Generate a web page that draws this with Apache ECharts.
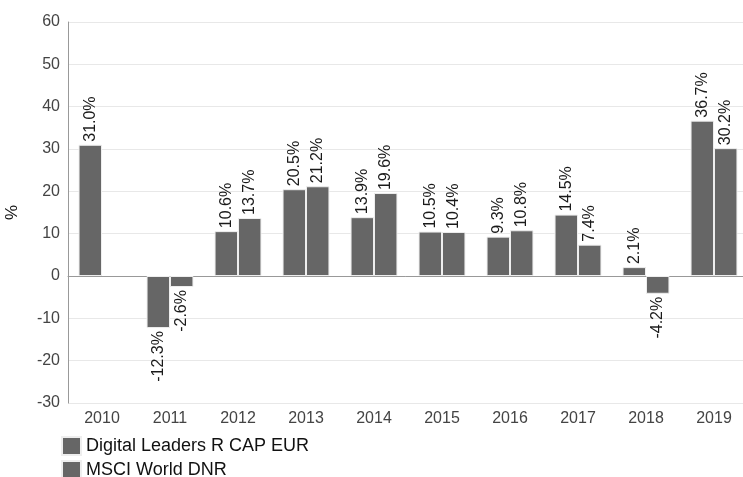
<!DOCTYPE html>
<html><head><meta charset="utf-8">
<script src="https://cdn.jsdelivr.net/npm/echarts@6/dist/echarts.min.js"></script>
<style>html,body{margin:0;padding:0;background:#fff;overflow:hidden}#c{width:743px;height:477px}</style>
</head><body><div id="c"></div>
<script>
const categories = ['2010','2011','2012','2013','2014','2015','2016','2017','2018','2019'];
const fundName = 'Digital Leaders R CAP EUR';
const indexName = 'MSCI World DNR';
const fundValues = [31.0, -12.3, 10.6, 20.5, 13.9, 10.5, 9.3, 14.5, 2.1, 36.7];
const indexValues = [null, -2.6, 13.7, 21.2, 19.6, 10.4, 10.8, 7.4, -4.2, 30.2];
const yTicks = {min: -30, max: 60, interval: 10};
const FONT = 'Liberation Sans, Arial, sans-serif';

function mk(vals) {
  return vals.map(v => {
    if (v === null) return null;
    const pos = v >= 0;
    return {
      value: v,
      label: {
        show: true,
        position: pos ? 'top' : 'bottom',
        rotate: 90,
        align: pos ? 'left' : 'right',
        verticalAlign: 'middle',
        distance: 3,
        formatter: p => p.value.toFixed(1) + '%',
        color: '#1a1a1a',
        fontSize: 16,
        fontFamily: FONT
      }
    };
  });
}
const chart = echarts.init(document.getElementById('c'), null, {renderer: 'canvas'});
const barStyle = {color: '#666666', borderColor: '#eeeeee', borderWidth: 1};
chart.setOption({
  animation: false,
  textStyle: {fontFamily: FONT},
  grid: {left: 68, right: -5, top: 22, bottom: 74, outerBoundsMode: 'none', containLabel: false},
  legend: {
    orient: 'vertical', left: 61, top: 436, itemGap: 4, padding: 0, height: 60,
    itemWidth: 19, itemHeight: 18, icon: 'rect',
    textStyle: {color: '#111', fontSize: 18, fontFamily: FONT},
    data: [fundName, indexName]
  },
  xAxis: {
    type: 'category', data: categories,
    axisLine: {lineStyle: {color: '#999'}},
    axisTick: {show: false},
    axisLabel: {color: '#444', fontSize: 16, margin: 8}
  },
  yAxis: {
    type: 'value', min: yTicks.min, max: yTicks.max, interval: yTicks.interval,
    name: '%', nameLocation: 'middle', nameGap: 47, nameRotate: 90,
    nameTextStyle: {color: '#111', fontSize: 17},
    axisLine: {show: true, lineStyle: {color: '#999'}},
    axisTick: {show: false},
    axisLabel: {color: '#444', fontSize: 16, margin: 8},
    splitLine: {lineStyle: {color: '#e8e8e8'}}
  },
  series: [
    {name: fundName, type: 'bar', data: mk(fundValues), itemStyle: barStyle, barGap: '0%', barCategoryGap: '31%'},
    {name: indexName, type: 'bar', data: mk(indexValues), itemStyle: barStyle, barGap: '0%', barCategoryGap: '31%'}
  ]
});
</script></body></html>
